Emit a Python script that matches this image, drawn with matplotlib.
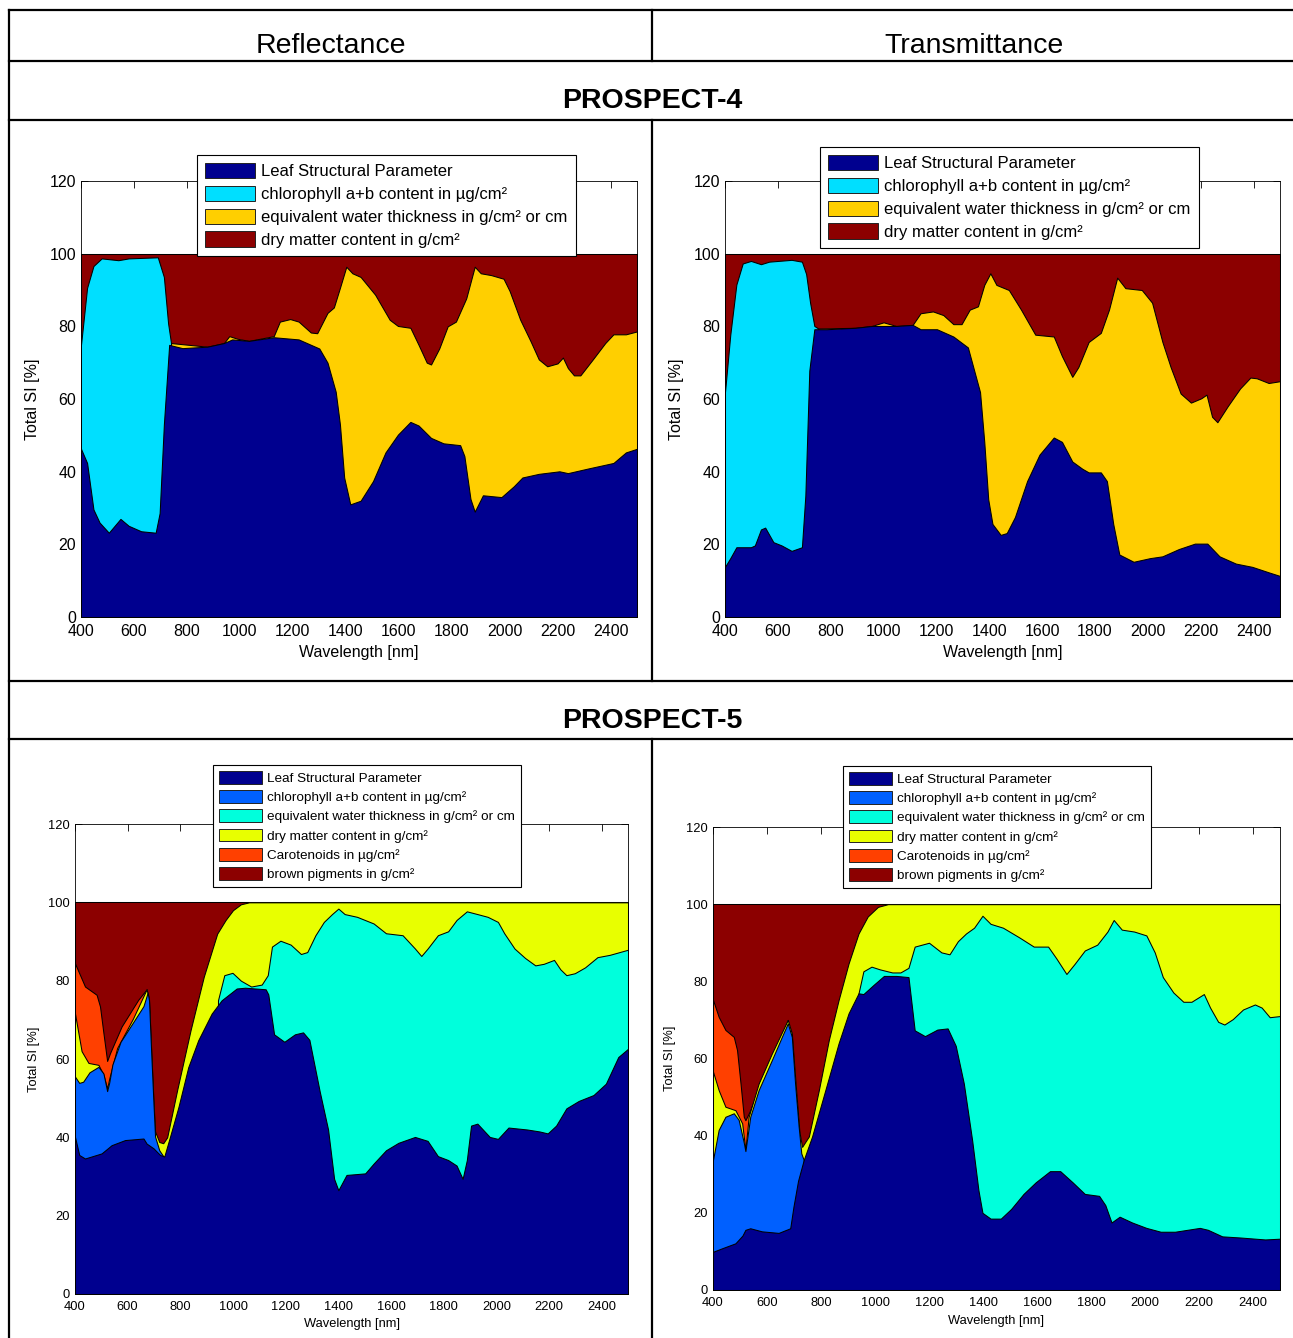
import numpy as np
import matplotlib
matplotlib.use("Agg")
import matplotlib.pyplot as plt
from matplotlib.lines import Line2D
from matplotlib.patches import Patch

plt.rcParams['font.family'] = ['Liberation Sans', 'DejaVu Sans']

# ---------------- data (cumulative stacked Total SI [%]) ----------------
# PROSPECT-4 reflectance
R4_N_wl = [400,423,447,470,505,549,580,627,682,697,713,733,783,877,940,971,1034,1128,1222,1300,
           1331,1362,1378,1394,1417,1456,1503,1550,1597,1644,1675,1722,1769,1832,1848,1871,1887,1918,1988,2035,
           2067,2129,2207,2239,2317,2411,2458,2500]
R4_N = [46.3,42.4,29.6,26.0,23.2,27.0,25.1,23.6,23.2,28.6,53.0,74.9,74.0,74.4,75.4,76.4,76.0,77.0,76.4,73.9,
        70.0,62.0,53.0,38.4,31.0,32.0,37.4,45.3,50.2,53.7,52.7,49.3,47.8,47.3,44.3,32.5,29.0,33.5,33.0,36.0,
        38.4,39.4,40.1,39.6,40.9,42.4,45.3,46.3]
R4_Cab_wl = [400,423,447,478,541,580,690,713,729,740]
R4_Cab = [74.9,90.6,96.6,98.7,98.2,98.7,99.0,93.6,80.8,75.4]
R4_Cw_wl = [740,877,940,960,990,1034,1128,1151,1190,1222,1268,1292,1331,1355,1378,1402,1425,1456,1511,1566,
            1597,1644,1675,1706,1722,1753,1785,1816,1855,1887,1910,1949,1996,2019,2059,2098,2129,2161,2200,2220,
            2239,2262,2286,2333,2380,2411,2458,2500]
R4_Cw = [75.4,74.4,75.4,77.3,76.6,76.0,77.3,81.3,82.0,81.3,78.3,78.1,83.7,85.2,90.6,96.4,94.6,93.6,88.7,81.8,
         80.1,79.6,74.9,70.0,69.5,73.9,80.0,81.3,87.7,96.4,94.6,94.1,93.1,89.7,81.8,75.9,70.9,69.0,69.8,71.4,
         68.5,66.5,66.5,70.9,75.4,77.8,77.8,78.6]
R4_Cm_wl = [400,2500]
R4_Cm = [100,100]

# PROSPECT-4 transmittance
T4_N_wl = [400,420,443,498,513,536,552,583,614,652,691,704,719,738,784,893,955,1048,1110,1140,
           1202,1264,1319,1350,1365,1381,1396,1412,1443,1466,1497,1543,1590,1644,1675,1714,1752,1776,1822,1845,
           1869,1892,1946,2008,2055,2117,2178,2225,2271,2333,2395,2457,2500]
T4_N = [13.8,16.2,19.2,19.2,19.7,24.1,24.6,20.6,19.7,18.2,19.2,33.4,67.8,79.2,79.2,79.6,80.1,80.1,80.4,79.2,
        79.2,77.2,74.2,65.9,61.9,48.2,32.4,25.6,22.6,23.1,27.5,37.4,44.7,49.4,48.2,42.8,40.8,39.8,39.8,37.4,
        25.6,17.2,15.2,16.2,16.7,18.7,20.2,20.2,16.7,14.7,13.8,12.3,11.3]
T4_Cab_wl = [400,420,443,467,498,536,567,652,691,707,722,738,753]
T4_Cab = [61.9,77.7,91.5,97.3,98.0,97.1,97.8,98.3,97.8,94.4,86.5,80.1,79.4]
T4_Cw_wl = [753,893,955,1000,1048,1110,1140,1187,1226,1264,1295,1326,1357,1381,1404,1427,1474,1520,1574,1644,
            1675,1714,1737,1776,1822,1853,1884,1915,1977,2016,2055,2086,2124,2163,2202,2222,2243,2263,2302,2349,
            2388,2412,2457,2500]
T4_Cw = [79.4,79.6,80.1,81.1,80.1,80.4,83.6,84.1,83.1,80.6,80.6,84.6,85.5,91.4,94.6,91.4,90.0,84.6,77.7,77.2,
         71.8,66.1,68.8,75.7,78.2,84.6,93.4,90.5,90.0,86.5,75.7,68.8,61.5,59.0,60.2,61.2,55.1,53.6,58.0,62.9,
         65.9,65.7,64.4,64.9]
T4_Cm_wl = [400,2500]
T4_Cm = [100,100]

# PROSPECT-5 reflectance
R5_N_wl = [400,416,438,501,539,590,660,672,698,723,739,761,793,830,868,919,957,1014,1046,1124,1134,
           1156,1195,1235,1266,1290,1329,1361,1384,1400,1431,1502,1534,1581,1628,1691,1739,1778,1817,1849,1872,
           1888,1904,1928,1975,2006,2046,2117,2164,2195,2227,2266,2313,2369,2416,2463,2500]
R5_N = [40.1,35.5,34.6,35.9,38.0,39.3,39.7,38.4,37.2,35.5,35.1,40.2,47.8,57.9,64.8,71.6,75.0,78.0,78.2,77.8,76.5,
        66.3,64.4,66.3,66.8,64.9,51.8,42.0,29.4,26.5,30.4,30.8,33.3,36.7,38.6,40.1,39.1,35.2,34.2,32.8,29.4,
        34.2,43.0,43.5,40.1,39.6,42.5,42.0,41.5,41.0,43.0,47.4,49.3,50.8,53.7,60.5,62.6]
R5_Cab_wl = [400,416,431,455,489,508,522,530,542,573,620,660,676,681,690,698,704,720,735]
R5_Cab = [55.5,53.9,54.2,56.6,58.0,56.3,51.8,54.0,58.6,64.4,69.3,73.5,77.0,75.0,60.6,48.6,40.2,36.7,35.2]
R5_Cw_wl = [943,967,998,1030,1069,1109,1132,1148,1180,1219,1258,1282,1313,1345,1376,1400,1424,1471,1534,
            1581,1644,1691,1715,1739,1778,1817,1849,1888,1928,1967,2006,2030,2069,2109,2148,2180,2219,2243,2266,
            2298,2337,2384,2431,2500]
R5_Cw = [75.0,81.4,82.0,80.0,78.5,79.0,81.4,88.7,90.2,89.2,86.8,87.3,91.6,95.0,97.0,98.4,97.0,96.3,94.6,
         92.1,91.6,88.2,86.3,88.2,91.6,92.6,95.5,97.7,97.0,96.3,95.0,92.1,88.2,85.8,83.9,84.3,85.3,82.9,81.4,
         81.9,83.4,86.0,86.6,87.9]
R5_Cm_wl = [400,425,451,489,508,522,530,560,620,672,681,690,698,704,720,735,750,788,839,889,
            940,972,1000,1030,1061,2500]
R5_Cm = [71.6,62.0,59.0,58.5,56.0,52.5,55.0,62.8,70.3,77.8,75.3,61.2,49.3,41.5,38.8,38.5,40.0,52.1,67.4,81.0,
         92.0,95.5,98.0,99.5,100.0,100.0]
R5_Car_wl = [400,438,482,495,508,522,533,577,640,672]
R5_Car = [84.4,78.5,76.4,73.4,66.6,59.5,61.5,68.3,75.1,77.8]
R5_Cbrown_wl = [400,2500]
R5_Cbrown = [100,100]

# PROSPECT-5 transmittance
T5_N_wl = [400,433,483,509,520,538,581,643,686,698,715,736,767,816,865,902,939,957,995,1033,
           1079,1124,1147,1185,1231,1269,1299,1329,1360,1383,1398,1428,1466,1504,1550,1595,1648,1686,1732,1777,
           1830,1853,1876,1906,1952,2005,2058,2111,2203,2233,2286,2354,2445,2500]
T5_N = [9.9,10.8,12.1,14.1,15.6,16.0,15.2,14.8,16.0,21.6,28.3,33.7,39.8,51.8,63.9,71.7,76.9,76.7,79.1,81.4,
        81.4,81.1,67.3,65.8,67.5,67.8,63.3,53.5,38.7,25.9,20.0,18.5,18.5,21.0,24.9,27.9,30.8,30.8,27.9,24.9,
        24.4,22.0,17.5,19.0,17.5,16.1,15.1,15.1,16.1,15.6,13.9,13.6,13.1,13.3]
T5_Cab_wl = [400,421,446,477,495,514,520,538,569,618,655,677,692,704,717,727,736]
T5_Cab = [33.7,41.5,44.9,45.8,44.1,38.2,36.0,44.9,51.8,59.6,65.6,69.1,65.6,53.5,42.5,35.4,33.7]
T5_Cw_wl = [939,957,987,1018,1064,1094,1124,1147,1200,1246,1276,1307,1337,1367,1398,1428,1474,1534,1588,1641,
            1671,1709,1739,1777,1823,1861,1884,1914,1960,2005,2036,2066,2105,2142,2172,2218,2241,2271,2294,2325,
            2363,2407,2432,2462,2500]
T5_Cw = [76.9,82.6,83.8,83.1,82.3,82.3,83.5,89.0,90.0,87.5,87.0,90.4,92.4,93.9,97.0,94.9,93.9,91.4,89.0,89.0,
         86.0,81.9,84.5,88.0,89.5,92.9,95.9,93.4,92.9,91.9,87.5,81.1,77.1,74.7,74.7,76.7,73.2,69.5,68.8,70.2,
         72.7,74.0,73.2,70.7,71.0]
T5_Cm_wl = [400,421,446,483,508,520,532,569,618,677,692,704,720,730,755,792,829,865,902,939,973,1011,1048,2500]
T5_Cm = [56.6,51.8,47.5,46.6,43.2,36.3,44.9,53.5,61.3,70.0,66.5,55.3,41.0,37.1,39.8,51.8,64.8,75.1,84.6,92.4,
         96.8,99.3,100.0,100.0]
T5_Car_wl = [400,421,446,477,489,502,514,520,538,581,631,677]
T5_Car = [75.2,70.8,67.4,65.6,62.2,53.5,44.9,44.0,46.6,54.4,61.3,70.0]
T5_Cbrown_wl = [400,2500]
T5_Cbrown = [100,100]

labels4 = ["Leaf Structural Parameter", "chlorophyll a+b content in µg/cm²",
           "equivalent water thickness in g/cm² or cm", "dry matter content in g/cm²"]
labels5 = ["Leaf Structural Parameter", "chlorophyll a+b content in µg/cm²",
           "equivalent water thickness in g/cm² or cm", "dry matter content in g/cm²",
           "Carotenoids in µg/cm²", "brown pigments in g/cm²"]
colors4 = ['#00008F', '#00DFFF', '#FFCF00', '#8C0000']
colors5 = ['#00008F', '#0060FF', '#00FFDC', '#E8FF00', '#FF4000', '#8C0000']

xticks = list(range(400, 2401, 200))
yticks = list(range(0, 121, 20))

# ---------------- layout ----------------
W, H = 1293, 1338
fig = plt.figure(figsize=(W / 100, H / 100), dpi=100)


def fx(x):
    return x / W


def fy(y):
    return 1 - y / H


LW = 1.6
for yy in [10, 61, 120, 681, 739]:
    fig.add_artist(Line2D([fx(9), 1.0], [fy(yy), fy(yy)], color='black', lw=LW))
fig.add_artist(Line2D([fx(9), fx(9)], [fy(10), 0.0], color='black', lw=LW))
for (y0, y1) in [(10, 61), (120, 681), (739, 1338)]:
    fig.add_artist(Line2D([fx(652), fx(652)], [fy(y0), fy(y1)], color='black', lw=LW))

fig.text(fx(331), fy(46), "Reflectance", ha='center', va='center', fontsize=20.5)
fig.text(fx(974), fy(46), "Transmittance", ha='center', va='center', fontsize=20.5)
fig.text(fx(652), fy(101), "PROSPECT-4", ha='center', va='center', fontsize=20.5, fontweight='bold')
fig.text(fx(652), fy(721), "PROSPECT-5", ha='center', va='center', fontsize=20.5, fontweight='bold')


def panel(box, layers, colors, labels, fs, leg_xy, leg_kw, ylab_x, xlab_y):
    l, r, t, b = box
    ax = fig.add_axes([fx(l), fy(b), (r - l) / W, (b - t) / H])
    ax.set_axisbelow(True)
    # painter's order: top layer first, lower layers on top of it
    for (wl, val), c in reversed(list(zip(layers, colors))):
        ax.fill_between(wl, 0, val, facecolor=c, edgecolor='black', linewidth=0.75, zorder=2)
    ax.set_xlim(400, 2500)
    ax.set_ylim(0, 120)
    ax.set_xticks(xticks)
    ax.set_yticks(yticks)
    ax.tick_params(direction='in', top=True, right=True, length=5, width=0.6,
                   labelsize=fs, pad=3.5)
    ax.tick_params(axis='x', pad=4.8)
    for s in ax.spines.values():
        s.set_linewidth(0.6)
        s.set_zorder(3)
    ax.set_xlabel("Wavelength [nm]", fontsize=fs)
    ax.set_ylabel("Total SI [%]", fontsize=fs)
    ax.xaxis.set_label_coords(0.5, xlab_y)
    ax.xaxis.label.set_va('center')
    ax.yaxis.set_label_coords(ylab_x, 0.5)
    ax.yaxis.label.set_va('center')
    handles = [Patch(facecolor=c, edgecolor='#222222', linewidth=0.7) for c in colors]
    leg = ax.legend(handles, labels, loc='upper left', bbox_to_anchor=(fx(leg_xy[0]), fy(leg_xy[1])),
                    bbox_transform=fig.transFigure, borderaxespad=0, fancybox=False,
                    framealpha=1, edgecolor='black', **leg_kw)
    leg.get_frame().set_linewidth(0.8)
    leg.set_zorder(5)
    return ax


leg4 = dict(fontsize=12.0, handlelength=3.0, handleheight=1.05, handletextpad=0.38,
            labelspacing=0.38, borderpad=0.48)
leg5 = dict(fontsize=9.7, handlelength=3.2, handleheight=1.1, handletextpad=0.38,
            labelspacing=0.38, borderpad=0.45)

panel((81, 637, 181, 617),
      [(R4_N_wl, R4_N), (R4_Cab_wl, R4_Cab), (R4_Cw_wl, R4_Cw), (R4_Cm_wl, R4_Cm)],
      colors4, labels4, 11.5, (197, 155), leg4, -0.087, -0.082)
panel((725, 1280, 181, 617),
      [(T4_N_wl, T4_N), (T4_Cab_wl, T4_Cab), (T4_Cw_wl, T4_Cw), (T4_Cm_wl, T4_Cm)],
      colors4, labels4, 11.5, (820, 147), leg4, -0.087, -0.082)
panel((75, 628, 824, 1294),
      [(R5_N_wl, R5_N), (R5_Cab_wl, R5_Cab), (R5_Cw_wl, R5_Cw), (R5_Cm_wl, R5_Cm),
       (R5_Car_wl, R5_Car), (R5_Cbrown_wl, R5_Cbrown)],
      colors5, labels5, 9.3, (213, 765), leg5, -0.074, -0.063)
panel((713, 1280, 827, 1290),
      [(T5_N_wl, T5_N), (T5_Cab_wl, T5_Cab), (T5_Cw_wl, T5_Cw), (T5_Cm_wl, T5_Cm),
       (T5_Car_wl, T5_Car), (T5_Cbrown_wl, T5_Cbrown)],
      colors5, labels5, 9.3, (843, 766), leg5, -0.076, -0.066)

fig.savefig("out.png", dpi=100)
